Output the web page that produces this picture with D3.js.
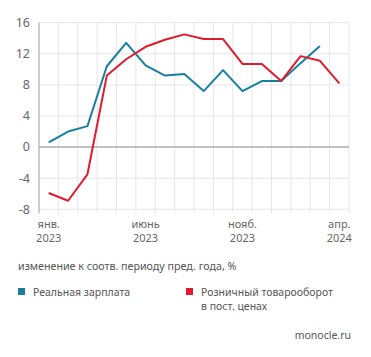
<!DOCTYPE html>
<html><head><meta charset="utf-8">
<script src="https://cdn.jsdelivr.net/npm/d3@7"></script>
<style>
body{margin:0;background:#fff;}
svg text{font-family:"Noto Sans",sans-serif;}
</style></head>
<body><svg id="c" width="371" height="357"></svg>
<script>
const months = ["2023-01","2023-02","2023-03","2023-04","2023-05","2023-06","2023-07","2023-08","2023-09","2023-10","2023-11","2023-12","2024-01","2024-02","2024-03","2024-04"];
const wages = [0.6, 2.0, 2.7, 10.4, 13.4, 10.5, 9.2, 9.4, 7.2, 9.9, 7.2, 8.5, 8.5, 10.8, 13.0, null];
const retail = [-5.9, -6.9, -3.5, 9.2, 11.3, 12.9, 13.8, 14.5, 13.9, 13.9, 10.7, 10.7, 8.5, 11.7, 11.1, 8.2];
const yTicks = [16, 12, 8, 4, 0, -4, -8];
const xLabels = {"2023-01":["янв.","2023"],"2023-06":["июнь","2023"],"2023-11":["нояб.","2023"],"2024-04":["апр.","2024"]};
const seriesNames = ["Реальная зарплата", ["Розничный товарооборот","в пост. ценах"]];
const colors = ["#17809f", "#e11a2c"];
const subtitle = "изменение к соотв. периоду пред. года, %";
const source = "monocle.ru";

const svg = d3.select("#c");
const L = 39, R = 349, T = 22.7, B = 209.3;
const x = d3.scaleBand().domain(months).range([L, R]);
const y = d3.scaleLinear().domain([-8, 16]).range([B, T]);
const cx = m => x(m) + x.bandwidth()/2;

// vertical grid
const edges = months.map(m => x(m)).concat([R]);
svg.append("g").selectAll("line").data(edges).join("line")
  .attr("x1", d=>d).attr("x2", d=>d).attr("y1", T).attr("y2", B+4)
  .attr("stroke", "#e6e6e6").attr("stroke-width", 1);
// horizontal grid
svg.append("g").selectAll("line").data(yTicks.filter(d=>d!==0)).join("line")
  .attr("x1", L).attr("x2", R).attr("y1", d=>y(d)).attr("y2", d=>y(d))
  .attr("stroke", "#e6e6e6").attr("stroke-width", 1);
// zero line
svg.append("line").attr("x1", L).attr("x2", R).attr("y1", y(0)).attr("y2", y(0))
  .attr("stroke", "#adadad").attr("stroke-width", 1.5);
// left axis line
svg.append("line").attr("x1", L).attr("x2", L).attr("y1", T).attr("y2", B+4)
  .attr("stroke", "#a8a8a8").attr("stroke-width", 1);

// y labels
svg.append("g").selectAll("text").data(yTicks).join("text")
  .attr("x", 30).attr("y", d=>y(d)).attr("dy", "0.35em")
  .attr("text-anchor", "end").attr("font-size", 12.5).attr("fill", "#666")
  .text(d=>d);

// x labels (two separate lines)
const xl = svg.append("g");
Object.entries(xLabels).forEach(([m, lines]) => {
  xl.append("text").attr("x", cx(m)).attr("y", 228)
    .attr("text-anchor", "middle").attr("font-size", 11).attr("fill", "#666").text(lines[0]);
  xl.append("text").attr("x", cx(m)).attr("y", 242)
    .attr("text-anchor", "middle").attr("font-size", 11).attr("fill", "#666").text(lines[1]);
});

// lines
const line = d3.line().defined(d=>d.v!==null).x(d=>cx(d.m)).y(d=>y(d.v));
[wages, retail].forEach((vals, i) => {
  svg.append("path").datum(months.map((m,j)=>({m, v: vals[j]})))
    .attr("d", line).attr("fill", "none").attr("stroke", colors[i])
    .attr("stroke-width", 2).attr("stroke-linejoin", "round");
});

// subtitle
svg.append("text").attr("x", 18).attr("y", 270).attr("font-size", 10.7).attr("fill", "#555").text(subtitle);

// legend
svg.append("rect").attr("x", 18).attr("y", 288).attr("width", 7).attr("height", 7).attr("fill", colors[0]);
svg.append("text").attr("x", 33).attr("y", 296).attr("font-size", 10.5).attr("fill", "#555").text(seriesNames[0]);
svg.append("rect").attr("x", 186).attr("y", 288).attr("width", 7).attr("height", 7).attr("fill", colors[1]);
svg.append("text").attr("x", 201).attr("y", 296).attr("font-size", 10.5).attr("fill", "#555").text(seriesNames[1][0]);
svg.append("text").attr("x", 201).attr("y", 310).attr("font-size", 10.5).attr("fill", "#555").text(seriesNames[1][1]);

// source
svg.append("text").attr("x", 351).attr("y", 339).attr("text-anchor", "end").attr("font-size", 10.5).attr("fill", "#555").text(source);
</script></body></html>
